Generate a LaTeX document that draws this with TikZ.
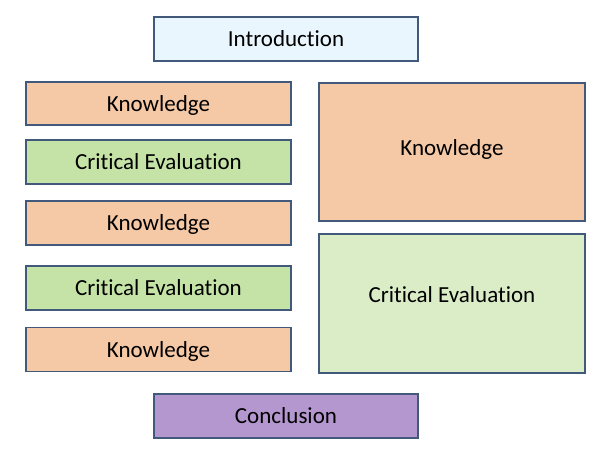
\documentclass[tikz,border=0pt]{standalone}
\usepackage{fontspec}
\setmainfont[Ligatures={NoCommon}]{Carlito}
\definecolor{bordc}{HTML}{41597A}
\definecolor{introc}{HTML}{EAF6FD}
\definecolor{knowc}{HTML}{F6C9A6}
\definecolor{critc}{HTML}{C5E3A6}
\definecolor{critlc}{HTML}{DBEDC7}
\definecolor{concc}{HTML}{B597D0}
\begin{document}
\begin{tikzpicture}[x=1pt,y=-1pt,
  box/.style={draw=bordc,line width=1.4pt,rectangle,inner sep=0pt,text height=16pt,text depth=1pt,font=\fontsize{23}{26}\selectfont,text=black},
  lbl/.style={inner sep=0pt,text height=16pt,text depth=1pt,font=\fontsize{23}{26}\selectfont,text=black},
]
\useasboundingbox[fill=white] (0,0) rectangle (600,450);
\node[box,fill=introc,minimum width=264pt,minimum height=44pt] (intro) at (286,39) {Introduction};
\node[box,fill=knowc,minimum width=265pt,minimum height=43pt] (k1) at (158.5,103.5) {Knowledge};
\node[box,fill=critc,minimum width=265pt,minimum height=44pt] (c1) at (158.5,162) {Critical Evaluation};
\node[box,fill=knowc,minimum width=265pt,minimum height=44pt] (k2) at (158.5,223) {Knowledge};
\node[box,fill=critc,minimum width=265pt,minimum height=44pt] (c2) at (158.5,288) {Critical Evaluation};
\node[box,fill=knowc,minimum width=265pt,minimum height=44pt] (k3) at (158.5,349.5) {Knowledge};
\node[box,fill=knowc,minimum width=266pt,minimum height=138pt] (kb) at (452,152) {};
\node[lbl] (kbt) at (452,147.5) {Knowledge};
\node[box,fill=critlc,minimum width=266pt,minimum height=139pt] (cb) at (452,303.5) {};
\node[lbl] (cbt) at (452,294.5) {Critical Evaluation};
\node[box,fill=concc,minimum width=264pt,minimum height=44pt] (conc) at (286,416) {Conclusion};
\end{tikzpicture}
\end{document}
